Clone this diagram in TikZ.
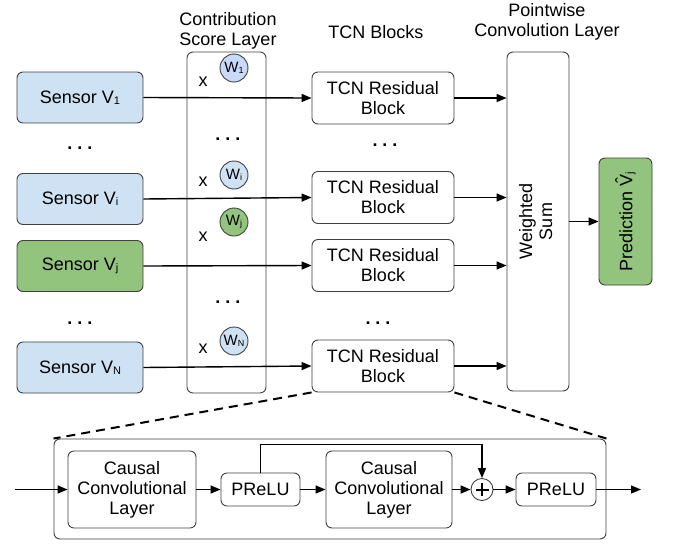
\documentclass[tikz,border=0pt]{standalone}
\usepackage{fontspec}
\usepackage{graphicx}
\setmainfont{Liberation Sans}
\usetikzlibrary{arrows.meta}
\definecolor{bluea}{HTML}{C9DAF8}
\definecolor{blueb}{HTML}{CFE2F3}
\definecolor{greenc}{HTML}{93C47D}
\definecolor{edge}{HTML}{404040}
\newcommand\smallsub[1]{\raisebox{-1pt}{\fontsize{11}{11}\selectfont #1}}
\newcommand\circsub[1]{\raisebox{-0.5pt}{\fontsize{9}{9}\selectfont #1}}
\newcommand\hatV{\makebox[0pt][l]{\hspace{3pt}\raisebox{4pt}{\char"02C6}}V}
\begin{document}
\begin{tikzpicture}[x=1pt,y=-1pt,
  font=\fontsize{18}{20}\selectfont,
  box/.style={draw=edge, line width=0.9pt, rounded corners=6pt, align=center, inner sep=0pt},
  sensorbox/.style={box, minimum width=126pt, minimum height=51pt},
  tcnbox/.style={box, minimum width=142pt, minimum height=52pt, fill=white},
  weight/.style={circle, draw=edge, line width=0.9pt, minimum size=28pt, inner sep=0pt, font=\fontsize{15}{15}\selectfont},
  conn/.style={line width=1.4pt, -{Triangle[length=10pt,width=8pt]}},
  dots/.style={inner sep=0pt, font=\fontsize{18}{20}\selectfont\bfseries},
  lbl/.style={inner sep=0pt, align=center},
  zoomline/.style={line width=2pt, dash pattern=on 9pt off 6pt}
]
\useasboundingbox (0,0) rectangle (673,547);

% titles
\node[lbl] (tcs) at (228,31) {Contribution\\Score Layer};
\node[lbl] (ttcn) at (376,32) {TCN Blocks};
\node[lbl] (tpw) at (547,22) {Pointwise\\Convolution Layer};

% contribution score layer
\node[box, minimum width=79pt, minimum height=341pt] (csl) at (226.5,222.5) {};

% sensors
\node[sensorbox, fill=blueb] (s1) at (80,97.5) {Sensor V\smallsub{1}};
\node[sensorbox, fill=blueb] (si) at (80,199) {Sensor V\smallsub{i}};
\node[sensorbox, fill=greenc] (sj) at (80,266) {Sensor V\smallsub{j}};
\node[sensorbox, fill=blueb] (sN) at (80,367.5) {Sensor V\smallsub{N}};
\node[dots] (d1) at (80,148) {.\hspace{5pt}.\hspace{5pt}.};
\node[dots] (d2) at (80,323) {.\hspace{5pt}.\hspace{5pt}.};

% weights
\node[weight, fill=bluea] (w1) at (234,68) {W\circsub{1}};
\node[weight, fill=blueb] (wi) at (234,175) {W\circsub{i}};
\node[weight, fill=greenc] (wj) at (234,222) {W\circsub{j}};
\node[weight, fill=blueb] (wN) at (234,341) {W\circsub{N}};
\node[lbl] (x1) at (203,82) {x};
\node[lbl] (xi) at (203,182) {x};
\node[lbl] (xj) at (203,237) {x};
\node[lbl] (xN) at (203,349) {x};
\node[dots] (d3) at (228,139) {.\hspace{5pt}.\hspace{5pt}.};
\node[dots] (d4) at (228,302) {.\hspace{5pt}.\hspace{5pt}.};

% TCN blocks
\node[tcnbox] (t1) at (383,98) {TCN Residual\\Block};
\node[tcnbox] (ti) at (383,197.5) {TCN Residual\\Block};
\node[tcnbox] (tj) at (383,265.5) {TCN Residual\\Block};
\node[tcnbox] (tN) at (383,366) {TCN Residual\\Block};
\node[dots] (d5) at (385,145) {.\hspace{5pt}.\hspace{5pt}.};
\node[dots] (d6) at (378,323) {.\hspace{5pt}.\hspace{5pt}.};

% weighted sum and prediction
\node[box, minimum width=62pt, minimum height=339pt] (ws) at (538,221.5)
  {\rotatebox{90}{\begin{tabular}{@{}c@{}}Weighted\\Sum\end{tabular}}};
\node[box, fill=greenc, minimum width=53pt, minimum height=127pt] (pred) at (625.5,221.5)
  {\rotatebox{90}{Prediction \hatV\smallsub{j}}};

% connectors
\draw[conn] (s1.east) -- (t1.west);
\draw[conn] (si.east) -- (ti.west);
\draw[conn] (sj.east) -- (tj.west);
\draw[conn] (sN.east) -- (tN.west);
\draw[conn] (t1.east) -- (t1.east -| ws.west);
\draw[conn] (ti.east) -- (ti.east -| ws.west);
\draw[conn] (tj.east) -- (tj.east -| ws.west);
\draw[conn] (tN.east) -- (tN.east -| ws.west);
\draw[conn] (ws.east) -- (pred.west);

% residual block detail
\node[box, minimum width=552pt, minimum height=100pt] (outer) at (330,489) {};
\draw[zoomline] (tN.south west) -- (outer.north west);
\draw[zoomline] (tN.south east) -- (outer.north east);
\node[box, minimum width=128pt, minimum height=77pt] (c1) at (132,489.5) {Causal\\Convolutional\\Layer};
\node[box, minimum width=79pt, minimum height=33pt] (p1) at (260.5,489.5) {PReLU};
\node[box, minimum width=126pt, minimum height=77pt] (c2) at (389,489.5) {Causal\\Convolutional\\Layer};
\node[circle, draw=edge, line width=0.9pt, minimum size=22pt, inner sep=0pt] (plus) at (482,489.5) {};
\draw[line width=2pt] (plus.center) ++(-6.5,0) -- ++(13,0);
\draw[line width=2pt] (plus.center) ++(0,-6.5) -- ++(0,13);
\node[box, minimum width=80pt, minimum height=33pt] (p2) at (556,489.5) {PReLU};
\coordinate (in) at (15,489.5);
\coordinate (out) at (641,489.5);
\draw[conn] (in) -- (c1.west);
\draw[conn] (c1.east) -- (p1.west);
\draw[conn] (p1.east) -- (c2.west);
\draw[conn] (c2.east) -- (plus.west);
\draw[conn] (plus.east) -- (p2.west);
\draw[conn] (p2.east) -- (out);
\draw[conn] (p1.north) -- ++(0,-28) -| (plus.north);
\end{tikzpicture}
\end{document}
